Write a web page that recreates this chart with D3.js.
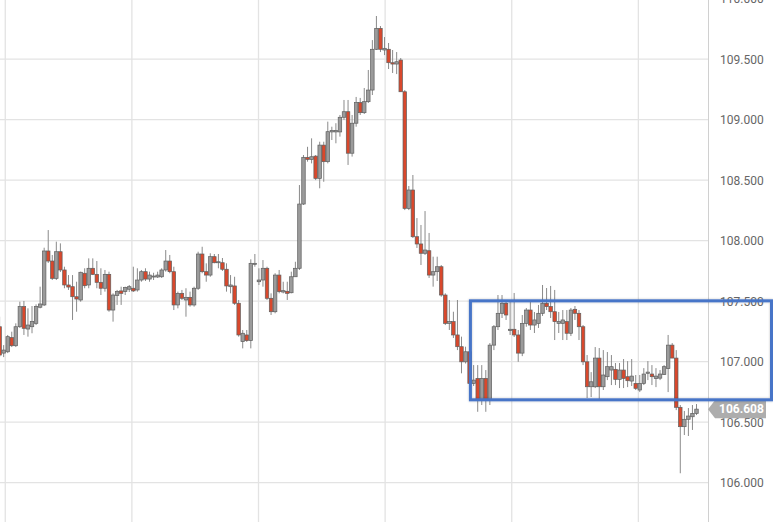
<!DOCTYPE html>
<html><head><meta charset="utf-8">
<script src="https://cdn.jsdelivr.net/npm/d3@7"></script>
<style>html,body{margin:0;padding:0;background:#fff;overflow:hidden}</style>
</head><body><svg id="chart" width="773" height="522"></svg>
<script>
// OHLC candle data (price), left to right
const open = [107.289,107.071,107.082,107.199,107.132,107.289,107.455,107.270,107.289,107.317,
107.450,107.469,107.915,107.832,107.689,107.909,107.758,107.634,107.620,107.537,
107.510,107.731,107.634,107.772,107.722,107.656,107.607,107.722,107.427,107.546,
107.585,107.579,107.599,107.607,107.593,107.675,107.744,107.683,107.700,107.700,
107.702,107.758,107.832,107.744,107.469,107.565,107.510,107.532,107.469,107.607,
107.890,107.744,107.716,107.868,107.818,107.818,107.764,107.620,107.626,107.483,
107.166,107.221,107.174,107.807,107.661,107.675,107.772,107.524,107.413,107.716,
107.576,107.582,107.570,107.702,107.772,108.303,108.689,108.672,108.699,108.515,
108.790,108.653,108.899,108.899,108.899,109.020,109.066,108.723,108.971,109.141,
109.058,109.149,109.245,109.582,109.755,109.576,109.582,109.471,109.460,109.493,
109.231,108.267,108.419,108.033,107.973,107.896,107.917,107.716,107.744,107.785,
107.551,107.317,107.331,107.221,107.124,106.999,107.082,106.821,106.862,106.683,
106.862,106.683,107.137,107.289,107.400,107.483,107.257,107.268,107.221,107.071,
107.317,107.427,107.303,107.317,107.400,107.483,107.455,107.413,107.317,107.317,
107.331,107.235,107.433,107.400,107.289,106.999,106.793,106.793,107.030,106.793,
106.876,106.931,106.937,106.854,106.931,106.876,106.840,106.821,106.766,106.821,
106.904,106.898,106.860,106.864,106.894,106.943,107.137,107.030,106.623,106.463,
106.524,106.545,106.573];
const close = [107.055,107.096,107.207,107.132,107.289,107.455,107.276,107.303,107.331,107.455,
107.477,107.915,107.832,107.689,107.909,107.758,107.634,107.617,107.537,107.518,
107.739,107.628,107.772,107.722,107.656,107.607,107.722,107.427,107.551,107.579,
107.565,107.612,107.620,107.585,107.675,107.744,107.683,107.716,107.708,107.716,
107.758,107.832,107.744,107.469,107.565,107.524,107.532,107.469,107.607,107.890,
107.744,107.716,107.868,107.818,107.826,107.764,107.626,107.634,107.483,107.221,
107.235,107.174,107.813,107.813,107.675,107.772,107.524,107.413,107.716,107.579,
107.587,107.565,107.702,107.772,108.303,108.689,108.672,108.694,108.515,108.790,
108.653,108.901,108.910,108.910,109.020,109.066,108.723,108.971,109.141,109.058,
109.149,109.245,109.582,109.755,109.582,109.590,109.471,109.460,109.479,109.231,
108.267,108.419,108.033,107.973,107.896,107.923,107.716,107.744,107.785,107.551,
107.317,107.331,107.221,107.124,106.999,107.082,106.821,106.848,106.683,106.862,
106.683,107.137,107.289,107.400,107.483,107.386,107.268,107.221,107.071,107.317,
107.427,107.303,107.345,107.400,107.483,107.455,107.413,107.331,107.331,107.345,
107.235,107.427,107.400,107.289,106.999,106.793,106.834,107.030,106.793,106.890,
106.959,106.959,106.854,106.931,106.862,106.843,106.881,106.780,106.821,106.898,
106.914,106.876,106.881,106.898,106.959,107.137,107.030,106.623,106.463,106.524,
106.551,106.573,106.608];
const high = [107.372,107.137,107.221,107.248,107.317,107.496,107.502,107.441,107.460,107.474,
107.620,107.942,108.088,107.882,107.992,107.978,107.785,107.716,107.716,107.661,
107.744,107.772,107.854,107.854,107.832,107.772,107.758,107.744,107.565,107.593,
107.620,107.620,107.634,107.785,107.772,107.758,107.772,107.744,107.735,107.744,
107.772,107.923,107.882,107.785,107.579,107.593,107.607,107.579,107.620,107.909,
107.950,107.813,107.896,107.890,107.890,107.857,107.813,107.716,107.702,107.510,
107.262,107.262,107.846,107.890,107.772,107.840,107.785,107.565,107.731,107.758,
107.661,107.661,107.744,107.826,108.460,108.708,108.776,108.846,108.708,108.818,
108.818,108.984,108.942,108.971,109.039,109.163,109.163,109.039,109.188,109.180,
109.262,109.411,109.658,109.857,109.774,109.683,109.634,109.576,109.559,109.510,
109.245,108.452,108.543,108.187,108.130,108.245,108.064,107.868,107.868,107.799,
107.565,107.510,107.413,107.510,107.207,107.124,107.110,106.972,106.972,106.972,
106.931,107.154,107.303,107.551,107.551,107.510,107.510,107.568,107.262,107.386,
107.444,107.510,107.411,107.469,107.634,107.609,107.626,107.593,107.411,107.427,
107.427,107.444,107.460,107.427,107.303,107.055,106.914,107.121,107.113,107.096,
107.080,107.055,106.989,106.989,107.022,107.005,107.022,106.890,106.890,106.947,
107.005,106.972,106.947,106.931,106.972,107.221,107.154,107.096,106.642,106.593,
106.617,106.642,106.650];
const low = [107.038,107.038,107.071,107.121,107.121,107.279,107.221,107.207,107.235,107.303,
107.441,107.460,107.816,107.675,107.675,107.741,107.607,107.593,107.345,107.413,
107.496,107.607,107.607,107.716,107.607,107.551,107.579,107.413,107.331,107.469,
107.469,107.551,107.576,107.576,107.579,107.661,107.667,107.661,107.675,107.692,
107.692,107.744,107.731,107.427,107.441,107.510,107.372,107.455,107.455,107.593,
107.731,107.661,107.702,107.813,107.772,107.750,107.579,107.565,107.469,107.207,
107.110,107.163,107.110,107.785,107.634,107.620,107.510,107.386,107.400,107.565,
107.565,107.510,107.565,107.702,107.758,108.295,108.653,108.639,108.501,108.433,
108.487,108.639,108.832,108.805,108.860,108.998,108.626,108.695,108.942,109.039,
109.047,109.138,109.204,109.576,109.559,109.534,109.419,109.386,109.377,109.229,
108.253,108.253,108.022,107.940,107.799,107.882,107.692,107.620,107.667,107.537,
107.303,107.262,107.196,107.096,106.904,106.985,106.799,106.799,106.586,106.642,
106.586,106.642,107.096,107.262,107.361,107.345,107.221,107.204,106.999,107.046,
107.289,107.262,107.237,107.279,107.378,107.427,107.361,107.179,107.237,107.179,
107.179,107.212,107.345,107.179,106.972,106.700,106.708,106.782,106.683,106.766,
106.848,106.807,106.807,106.782,106.782,106.790,106.799,106.766,106.749,106.807,
106.848,106.807,106.790,106.848,106.890,106.749,107.030,106.600,106.078,106.394,
106.386,106.436,106.559];

const priceTicks = [106.0,106.5,107.0,107.5,108.0,108.5,109.0,109.5,110.0];
const timeTicks = [1.4, 32.65, 63.9, 95.15, 126.4, 157.65]; // candle-index positions of time gridlines
const lastPrice = 106.608;
const zoneTop = 107.503, zoneBottom = 106.685, zoneStart = 116.2;

const W = 773, H = 522, axisX = 708;
const n = open.length;
const svg = d3.select('#chart');

const x = d3.scaleLinear().domain([0, n - 1]).range([-0.4, 696.5]);
const y = d3.scaleLinear().domain([106, 110]).range([482.7, -1.3]);

const defs = svg.append('defs');
const f = defs.append('filter').attr('id','sh').attr('x','-5%').attr('y','-10%').attr('width','110%').attr('height','120%');
f.append('feDropShadow').attr('dx',0).attr('dy',0).attr('stdDeviation',1.2).attr('flood-color','#000').attr('flood-opacity',0.25);

// grid
svg.append('g').selectAll('line').data(priceTicks).join('line')
  .attr('x1', 0).attr('x2', axisX).attr('y1', d => y(d)).attr('y2', d => y(d))
  .attr('stroke', '#e3e3e3').attr('stroke-width', 1.3);
svg.append('g').selectAll('line').data(timeTicks).join('line')
  .attr('x1', d => x(d)).attr('x2', d => x(d)).attr('y1', 0).attr('y2', H)
  .attr('stroke', '#e3e3e3').attr('stroke-width', 1.3);

// axis separator
svg.append('line').attr('x1', axisX + 0.5).attr('x2', axisX + 0.5).attr('y1', 0).attr('y2', H)
  .attr('stroke', '#d0d0d0').attr('stroke-width', 1);

// right price axis
const ax = svg.append('g').attr('transform', `translate(${axisX},0)`)
  .call(d3.axisRight(y).tickValues(priceTicks).tickSize(0).tickPadding(12).tickFormat(d3.format('.3f')));
ax.select('.domain').remove();
ax.selectAll('text').attr('font-family', 'Roboto, "Open Sans", sans-serif').attr('font-size', 12).attr('fill', '#666');

// candles
const idx = d3.range(n);
const g = svg.append('g');
g.selectAll('line.wick').data(idx).join('line').attr('class','wick')
  .attr('x1', i => x(i)).attr('x2', i => x(i))
  .attr('y1', i => y(high[i])).attr('y2', i => y(low[i]))
  .attr('stroke', '#8a8a8a').attr('stroke-width', 1);
const bw = 3.5;
g.selectAll('rect.body').data(idx).join('rect').attr('class','body')
  .attr('x', i => x(i) - bw / 2)
  .attr('y', i => y(Math.max(open[i], close[i])))
  .attr('width', bw)
  .attr('height', i => Math.max(1, Math.abs(y(open[i]) - y(close[i]))))
  .attr('fill', i => close[i] >= open[i] ? '#9b9b9b' : '#d9482c')
  .attr('stroke', '#5f5f5f').attr('stroke-width', 0.7);

// last price tag
const ly = y(lastPrice);
svg.append('path')
  .attr('d', `M${axisX},${ly} L${axisX + 7},${ly - 9} L${W - 7},${ly - 9} L${W - 7},${ly + 9} L${axisX + 7},${ly + 9} Z`)
  .attr('fill', '#adadad');
svg.append('text').attr('x', 719).attr('y', ly).attr('dy', '0.35em')
  .attr('font-family', 'Roboto, "Open Sans", sans-serif').attr('font-size', 12).attr('font-weight', 'bold')
  .attr('fill', '#fff').text(d3.format('.3f')(lastPrice));

// highlighted zone
svg.append('rect')
  .attr('x', x(zoneStart)).attr('y', y(zoneTop))
  .attr('width', W - 1.5 - x(zoneStart)).attr('height', y(zoneBottom) - y(zoneTop))
  .attr('fill', 'none').attr('stroke', '#4674c8').attr('stroke-width', 3)
  .attr('filter', 'url(#sh)');
</script></body></html>
